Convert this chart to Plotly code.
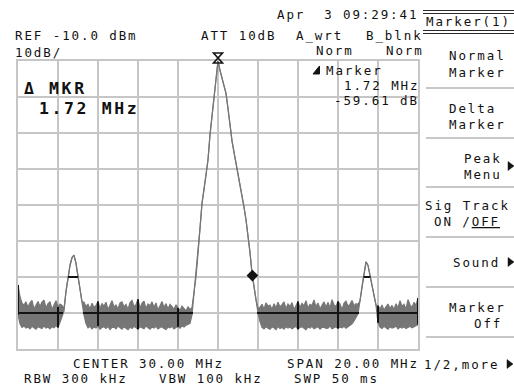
import numpy as np
import plotly.graph_objects as go

# ---- instrument settings shown on screen ----
center_mhz = 30.0
span_mhz = 20.0
ref_dbm = -10.0
db_per_div = 10.0
n_vdiv = 8
n_hdiv = 10
ref_mkr_mhz = 30.0      # reference (peak) marker
delta_mkr_mhz = 1.72    # delta marker offset
delta_mkr_db = -59.61   # delta marker level relative to reference

# ---- sweep trace: per-bin max / min (dBm), 201 bins across the span ----
trace_hi = [
    # 20.0 - 20.2
    -72.2, -75.5, -77.3,
    # 20.3 - 22.3
    -77.8, -76.9, -78.4, -77.2, -76.5, -78.9, -77.6, -76.8, -78.2, -77.0,
    -76.4, -78.6, -77.4, -76.9, -79.0, -77.8, -76.6, -78.3, -77.5, -77.9, -78.8,
    # 22.4 - 23.2 (spur)
    -74.0, -70.0, -66.8, -64.6, -63.9, -66.2, -70.0, -73.8, -76.8,
    # 23.3 - 28.6
    -77.0, -78.2, -77.6, -78.9, -77.3, -78.5, -77.9, -76.8, -78.7, -77.4,
    -78.1, -77.0, -79.1, -77.7, -76.6, -78.4, -77.8, -78.9, -77.2, -76.9,
    -78.3, -77.6, -79.0, -77.1, -76.5, -78.2, -77.7, -76.2, -78.6, -77.3,
    -76.7, -78.8, -77.5, -78.0, -76.9, -78.4, -77.2, -79.2, -77.8, -76.8,
    -78.5, -77.4, -78.9, -77.6, -78.2, -79.0, -77.7, -78.6, -79.3, -78.1,
    -78.8, -79.4, -78.3, -79.0,
    # 28.7 - 32.0 (carrier)
    -78.5, -74.5, -70.0, -63.5, -56.5, -49.5, -45.8, -41.5, -37.5, -30.5,
    -25.5, -20.3, -15.2, -10.0, -12.6, -14.9, -17.1, -19.0, -23.2, -28.0,
    -32.2, -35.3, -38.2, -41.1, -44.2, -47.3, -50.6, -54.1, -58.0, -63.2,
    -68.9, -72.9, -76.3, -78.8,
    # 32.1 - 36.9
    -78.4, -77.6, -78.9, -77.2, -78.1, -77.8, -79.0, -77.4, -78.6, -77.0,
    -78.3, -77.7, -76.9, -78.8, -77.5, -78.2, -77.1, -79.1, -77.9, -76.8,
    -78.5, -77.3, -78.0, -76.6, -78.7, -77.6, -77.9, -76.4, -78.3, -77.2,
    -78.9, -77.7, -76.9, -78.4, -77.1, -78.6, -76.3, -77.8, -78.2, -76.8,
    -77.5, -79.0, -77.3, -76.7, -78.1, -77.6, -76.5, -78.0, -77.4,
    # 37.0 - 37.9 (spur)
    -77.6, -76.6, -72.6, -69.2, -65.8, -66.8, -69.4, -72.4, -75.2, -77.8,
    # 38.0
    -78.0,
    # 38.1 - 39.9
    -78.9, -77.8, -79.2, -78.3, -77.5, -78.8, -77.9, -79.0, -77.4, -78.6,
    -76.6, -78.2, -77.6, -78.9, -76.3, -77.7, -78.5, -77.0, -77.9,
    # 40.0
    -75.8,
]

trace_lo = [
    # 20.0 - 20.2
    -80.5, -83.0, -84.0,
    # 20.3 - 22.3
    -83.6, -84.2, -83.9, -84.4, -83.7, -84.1, -84.5, -83.8, -84.0, -84.3,
    -83.6, -84.2, -83.9, -84.4, -83.8, -84.1, -83.5, -84.0, -82.6, -81.2, -79.5,
    # 22.4 - 23.2 (spur)
    -74.0, -70.0, -66.8, -64.6, -63.9, -66.2, -70.0, -73.8, -76.8,
    # 23.3 - 28.6
    -80.6, -82.9, -84.1, -83.7, -84.4, -83.9, -84.2, -83.6, -84.5, -84.0,
    -83.8, -84.3, -83.7, -84.6, -84.0, -83.9, -84.4, -83.6, -84.2, -84.5,
    -83.8, -84.1, -84.6, -83.9, -84.3, -83.7, -84.0, -84.5, -83.8, -84.2,
    -84.4, -83.6, -84.1, -84.5, -83.9, -84.2, -83.7, -84.4, -84.0, -83.8,
    -84.3, -84.6, -83.9, -84.1, -83.7, -84.4, -84.0, -83.8, -84.2, -83.6,
    -83.9, -83.4, -83.2, -82.9,
    # 28.7 - 32.0 (carrier)
    -80.5, -74.5, -70.0, -63.5, -56.5, -49.5, -45.8, -41.5, -37.5, -30.5,
    -25.5, -20.3, -15.2, -10.0, -12.6, -14.9, -17.1, -19.0, -23.2, -28.0,
    -32.2, -35.3, -38.2, -41.1, -44.2, -47.3, -50.6, -54.1, -58.0, -63.2,
    -68.9, -72.9, -76.3, -80.0,
    # 32.1 - 36.9
    -82.4, -84.0, -84.4, -83.8, -84.2, -84.5, -83.9, -84.1, -84.6, -83.7,
    -84.3, -84.0, -84.5, -83.8, -84.2, -83.9, -84.4, -84.1, -83.7, -84.5,
    -84.0, -83.8, -84.3, -84.6, -83.9, -84.2, -83.7, -84.4, -84.1, -83.8,
    -84.5, -84.0, -83.9, -84.3, -84.2, -83.6, -84.4, -84.0, -83.8, -84.3,
    -83.9, -84.1, -83.7, -84.2, -83.8, -83.5, -83.0, -82.2, -81.0,
    # 37.0 - 37.9 (spur)
    -80.2, -76.6, -72.6, -69.2, -65.8, -66.8, -69.4, -72.4, -75.2, -77.8,
    # 38.0
    -82.7,
    # 38.1 - 39.9
    -83.9, -84.3, -83.7, -84.1, -84.5, -83.8, -84.2, -84.0, -83.6, -84.4,
    -83.9, -84.2, -83.8, -84.3, -84.0, -83.7, -84.1, -83.9, -83.5,
    # 40.0
    -83.2,
]

# ---- geometry of the screen ----
W, H = 514, 389
ML, MR, MT, MB = 18, 96, 61, 40
PW, PH = W - ML - MR, H - MT - MB

MONO = "DejaVu Sans Mono, Liberation Mono, monospace"
INK = "#111111"
GRID = "#c6c6c6"
TRACE = "#767676"
DARK = "#141414"

f_start = center_mhz - span_mhz / 2
f_stop = center_mhz + span_mhz / 2
y_top = ref_dbm
y_bot = ref_dbm - db_per_div * n_vdiv

hi = np.array(trace_hi)
lo = np.array(trace_lo)
freqs = np.linspace(f_start, f_stop, len(hi))
step = freqs[1] - freqs[0]


def px_x(px):
    return (px - ML) / PW


def px_y(py):
    return (H - MB - py) / PH


def data_to_px(f, db):
    return (ML + (f - f_start) / span_mhz * PW,
            MT + (y_top - db) / (y_top - y_bot) * PH)


def poly_path(points, close=True):
    p = "M " + " L ".join(f"{px_x(a):.5f},{px_y(b):.5f}" for a, b in points)
    return p + (" Z" if close else "")


fig = go.Figure()

# lower envelope, then upper envelope filled down to it
fig.add_trace(go.Scatter(x=freqs, y=lo, mode="lines",
                         line=dict(color=TRACE, width=1.2), hoverinfo="skip"))
fig.add_trace(go.Scatter(x=freqs, y=hi, mode="lines", fill="tonexty",
                         fillcolor=TRACE, line=dict(color=TRACE, width=1.2),
                         hoverinfo="skip"))

# delta marker on the carrier skirt
fig.add_trace(go.Scatter(x=[ref_mkr_mhz + delta_mkr_mhz],
                         y=[ref_dbm + delta_mkr_db], mode="markers",
                         marker=dict(symbol="diamond", size=9, color=DARK),
                         cliponaxis=False, hoverinfo="skip"))

shapes = []

# reference marker: hourglass glyph sitting on the peak
mx, my = data_to_px(ref_mkr_mhz, ref_dbm)
hx, top_y, bot_y = 4.5, my - 8, my + 2
shapes.append(dict(type="path", xref="paper", yref="paper",
                   path=poly_path([(mx - hx, top_y), (mx + hx, top_y),
                                   (mx - hx, bot_y), (mx + hx, bot_y)]),
                   line=dict(color=DARK, width=1.6)))


def runs(mask):
    out, start = [], None
    for i, m in enumerate(mask):
        if m and start is None:
            start = i
        if not m and start is not None:
            out.append((start, i - 1))
            start = None
    if start is not None:
        out.append((start, len(mask) - 1))
    return out


# graticule drawn dark where the trace band covers it
level = -80.0
for a, b in runs((lo <= level) & (hi >= level)):
    x0 = max(f_start, freqs[a] - step / 2)
    x1 = min(f_stop, freqs[b] + step / 2)
    shapes.append(dict(type="line", xref="x", yref="y", x0=x0, x1=x1,
                       y0=level, y1=level, line=dict(color=DARK, width=2)))

for gx in np.arange(f_start, f_stop + 1e-9, span_mhz / n_hdiv):
    v_hi = float(np.interp(gx, freqs, hi))
    v_lo = float(np.interp(gx, freqs, lo))
    if v_hi - v_lo > 2:
        shapes.append(dict(type="line", xref="x", yref="y", x0=gx, x1=gx,
                           y0=v_lo, y1=v_hi, line=dict(color=DARK, width=2)))

level = -70.0
for a, b in runs(hi > level):
    if hi[a:b + 1].max() > -60 or a == 0:
        continue
    xl = np.interp(level, [hi[a - 1], hi[a]], [freqs[a - 1], freqs[a]])
    xr = np.interp(level, [hi[b + 1], hi[b]], [freqs[b + 1], freqs[b]])
    shapes.append(dict(type="line", xref="x", yref="y", x0=xl, x1=xr,
                       y0=level, y1=level, line=dict(color=DARK, width=2)))

# soft-key panel rules
for yy in (10.5, 13.5, 30.5, 33.5):
    shapes.append(dict(type="line", xref="paper", yref="paper",
                       x0=px_x(423), x1=px_x(514), y0=px_y(yy), y1=px_y(yy),
                       line=dict(color="#2a2a2a", width=1)))
for yy in (88, 138, 187, 237, 287, 337):
    shapes.append(dict(type="line", xref="paper", yref="paper",
                       x0=px_x(426), x1=px_x(514), y0=px_y(yy), y1=px_y(yy),
                       line=dict(color="#b4b4b4", width=1.5)))

# soft-key arrows and the delta-marker glyph
for ax, ay in ((508, 166), (508, 262), (507, 364)):
    shapes.append(dict(type="path", xref="paper", yref="paper",
                       path=poly_path([(ax, ay - 4.5), (ax + 6, ay), (ax, ay + 4.5)]),
                       fillcolor=DARK, line=dict(color=DARK, width=0.5)))
shapes.append(dict(type="path", xref="paper", yref="paper",
                   path=poly_path([(313, 74), (319.5, 74), (319.5, 66)]),
                   fillcolor=DARK, line=dict(color=DARK, width=1)))

annotations = []


def label(px, py, text, anchor="left", size=12.5, spacing=1.9, bold=False,
          color=INK):
    if bold:
        text = "<b>" + text + "</b>"
    text = f'<span style="letter-spacing:{spacing}px">{text}</span>'
    annotations.append(dict(text=text, x=px_x(px), y=px_y(py), xref="paper",
                            yref="paper", xanchor=anchor, yanchor="middle",
                            showarrow=False, borderpad=0,
                            font=dict(family=MONO, size=size, color=color)))


# header
label(419, 15, "Apr&nbsp;&nbsp;3 09:29:41", anchor="right")
label(14, 36, f"REF {ref_dbm:.1f} dBm")
label(200, 36, "ATT 10dB")
label(295, 36, "A_wrt")
label(424, 36, "B_blnk", anchor="right")
label(14, 52, f"{db_per_div:.0f}dB/")
label(315, 51, "Norm")
label(425, 51, "Norm", anchor="right")

# marker readouts
label(23, 88, "Δ MKR", size=16.5, spacing=2.6, bold=True)
label(38, 109, f"{delta_mkr_mhz:.2f} MHz", size=16.5, spacing=2.6, bold=True)
label(325, 70, "Marker")
label(420, 85, f"{delta_mkr_mhz:.2f} MHz", anchor="right")
label(420, 101, f"{delta_mkr_db:.2f} dB", anchor="right")

# footer
label(72, 363, f"CENTER {center_mhz:.2f} MHz")
label(420, 363, f"SPAN {span_mhz:.2f} MHz", anchor="right")
label(23, 378, "RBW 300 kHz")
label(158, 378, "VBW 100 kHz")
label(293, 378, "SWP 50 ms")

# soft keys
label(425, 22, "Marker(1)")
label(448, 56, "Normal")
label(448, 72, "Marker")
label(448, 108, "Delta")
label(448, 124, "Marker")
label(463, 158, "Peak")
label(463, 174, "Menu")
label(424, 205, "Sig Track")
label(433, 221, "ON /<u>OFF</u>")
label(452, 262, "Sound")
label(448, 307, "Marker")
label(473, 323, "Off")
label(423, 364, "1/2,more")

axis_common = dict(showgrid=True, gridcolor=GRID, gridwidth=2,
                   showticklabels=False, ticks="", zeroline=False,
                   showline=True, mirror=True, linecolor=GRID, linewidth=2,
                   fixedrange=True)

fig.update_layout(
    width=W, height=H,
    margin=dict(l=ML, r=MR, t=MT, b=MB, pad=0),
    paper_bgcolor="white", plot_bgcolor="white",
    showlegend=False,
    xaxis=dict(range=[f_start, f_stop], dtick=span_mhz / n_hdiv,
               tick0=f_start, **axis_common),
    yaxis=dict(range=[y_bot, y_top], dtick=db_per_div, tick0=y_bot,
               **axis_common),
    shapes=shapes,
    annotations=annotations,
)

fig.write_html("out.html")
